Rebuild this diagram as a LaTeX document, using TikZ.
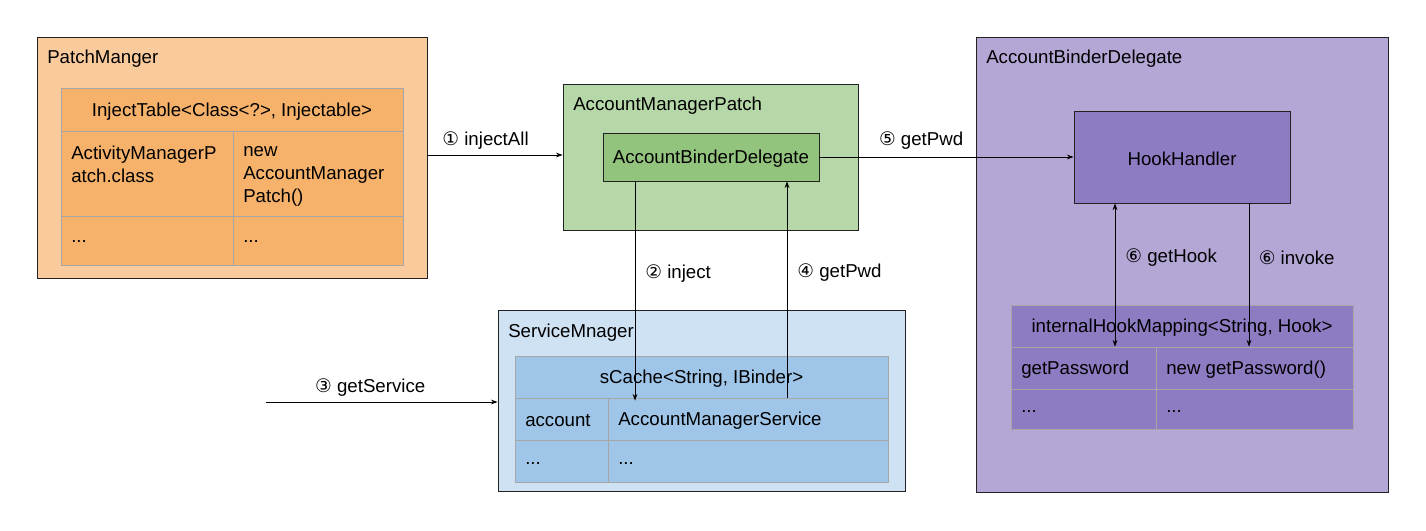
\documentclass[tikz,border=0pt]{standalone}
\usepackage{fontspec}
\setmainfont{Liberation Sans}
\newfontfamily\dv{DejaVu Sans}
\usetikzlibrary{arrows.meta,fit}
\definecolor{pmO}{HTML}{F9CB9C}
\definecolor{pmT}{HTML}{F6B26B}
\definecolor{gnO}{HTML}{B6D7A8}
\definecolor{gnI}{HTML}{93C47D}
\definecolor{blO}{HTML}{CFE2F3}
\definecolor{blT}{HTML}{9FC5E8}
\definecolor{puO}{HTML}{B4A7D6}
\definecolor{puI}{HTML}{8E7CC3}
\definecolor{gridc}{HTML}{A6A6A6}
\definecolor{edge}{HTML}{222222}
\newcommand\bx[6]{\node[#6, fit={(#2,#3)(#4,#5)}, inner sep=0pt] (#1) {};}
\begin{document}
\begin{tikzpicture}[x=0.75pt,y=-0.75pt,
  outer/.style={draw=edge, line width=0.6pt},
  cellb/.style={draw=gridc, line width=0.6pt},
  txt/.style={font=\fontsize{14}{17.25}\selectfont, inner sep=0pt, yshift=-1.5pt},
  mtxt/.style={font=\fontsize{14}{17.25}\selectfont, inner sep=0pt},
  arr/.style={draw=black, line width=0.6pt, -{Stealth[length=5pt,width=3.6pt]}},
  darr/.style={draw=black, line width=0.6pt, {Stealth[length=5pt,width=3.6pt]}-{Stealth[length=5pt,width=3.6pt]}},
  lbl/.style={font=\fontsize{14}{16}\selectfont, inner sep=0pt}
]
\useasboundingbox (0,0) rectangle (1426,531);
\fill[white] (0,0) rectangle (1426,531);

% ---------- PatchManger ----------
\bx{pm}{37}{37}{427}{278}{outer,fill=pmO}
\node[txt,anchor=west] (pmt) at (47,57) {PatchManger};
\bx{pmh}{61}{88}{403}{131}{cellb,fill=pmT}
\bx{pmra}{61}{131}{233}{216}{cellb,fill=pmT}
\bx{pmrb}{233}{131}{403}{216}{cellb,fill=pmT}
\bx{pmsa}{61}{216}{233}{265}{cellb,fill=pmT}
\bx{pmsb}{233}{216}{403}{265}{cellb,fill=pmT}
\node[txt] (pmht) at (pmh.center) {InjectTable<Class<?>, Injectable>};
\node[mtxt,anchor=north west,align=left] (pmrat) at (71,146) {ActivityManagerP\\atch.class};
\node[mtxt,anchor=north west,align=left] (pmrbt) at (243,146) {new\\AccountManager\\Patch()};
\node[txt,anchor=west] (pmsat) at (71,240) {...};
\node[txt,anchor=west] (pmsbt) at (243,240) {...};

% ---------- AccountManagerPatch ----------
\bx{amp}{563}{84}{858}{230}{outer,fill=gnO}
\node[txt,anchor=west] (ampt) at (573,104) {AccountManagerPatch};
\bx{ibd}{603}{133}{819}{181}{outer,fill=gnI}
\node[txt] (ibdt) at (ibd.center) {AccountBinderDelegate};

% ---------- ServiceMnager ----------
\bx{sm}{498}{310}{905}{491}{outer,fill=blO}
\node[txt,anchor=west] (smt) at (508,331) {ServiceMnager};
\bx{smh}{515}{356}{888}{398}{cellb,fill=blT}
\bx{smra}{515}{398}{608}{440}{cellb,fill=blT}
\bx{smrb}{608}{398}{888}{440}{cellb,fill=blT}
\bx{smsa}{515}{440}{608}{482}{cellb,fill=blT}
\bx{smsb}{608}{440}{888}{482}{cellb,fill=blT}
\node[txt] (smht) at (smh.center) {sCache<String, IBinder>};
\node[txt,anchor=west] (smrat) at (525,419) {account};
\node[txt,anchor=west] (smrbt) at (618,419) {AccountManagerService};
\node[txt,anchor=west] (smsat) at (525,461) {...};
\node[txt,anchor=west] (smsbt) at (618,461) {...};

% ---------- AccountBinderDelegate ----------
\bx{abd}{976}{37}{1388}{492}{outer,fill=puO}
\node[txt,anchor=west] (abdt) at (986,57) {AccountBinderDelegate};
\bx{hh}{1074}{111}{1290}{203}{outer,fill=puI}
\node[txt] (hht) at (hh.center) {HookHandler};
\bx{ihh}{1011}{305}{1353}{347}{cellb,fill=puI}
\bx{ihra}{1011}{347}{1156}{389}{cellb,fill=puI}
\bx{ihrb}{1156}{347}{1353}{389}{cellb,fill=puI}
\bx{ihsa}{1011}{389}{1156}{429}{cellb,fill=puI}
\bx{ihsb}{1156}{389}{1353}{429}{cellb,fill=puI}
\node[txt] (ihht) at (ihh.center) {internalHookMapping<String, Hook>};
\node[txt,anchor=west] (ihrat) at (1021,368) {getPassword};
\node[txt,anchor=west] (ihrbt) at (1166,368) {new getPassword()};
\node[txt,anchor=west] (ihsat) at (1021,409) {...};
\node[txt,anchor=west] (ihsbt) at (1166,409) {...};

% ---------- connectors ----------
\coordinate (y155) at (0,155);
\coordinate (x635) at (635,0);
\coordinate (x787) at (787,0);
\coordinate (x1115) at (1115,0);
\coordinate (x1249) at (1249,0);
\coordinate (src) at (266,402);

\draw[arr] (pm.east |- y155) -- node[lbl,pos=0.43,above=4pt] {{\dv ①} injectAll} (amp.west |- y155);
\draw[arr] (ibd.east) -- node[lbl,pos=0.4,above=5.5pt] {{\dv ⑤} getPwd} (hh.west |- ibd.east);
\draw[arr] (ibd.south -| x635) -- node[lbl,pos=0.42,anchor=west,xshift=7.5pt] {{\dv ②} inject} ([yshift=-2.25pt]smra.north -| x635);
\draw[arr] (smrb.north -| x787) -- node[lbl,pos=0.58,anchor=west,xshift=7.5pt] {{\dv ④} getPwd} (ibd.south -| x787);
\draw[arr] (src) -- node[lbl,pos=0.45,above=4pt] {{\dv ③} getService} (sm.west |- src);
\draw[darr] (hh.south -| x1115) -- node[lbl,pos=0.38,anchor=west,xshift=7.5pt] {{\dv ⑥} getHook} (ihra.north -| x1115);
\draw[arr] (hh.south -| x1249) -- node[lbl,pos=0.38,anchor=west,xshift=7pt] {{\dv ⑥} invoke} (ihrb.north -| x1249);
\end{tikzpicture}
\end{document}
